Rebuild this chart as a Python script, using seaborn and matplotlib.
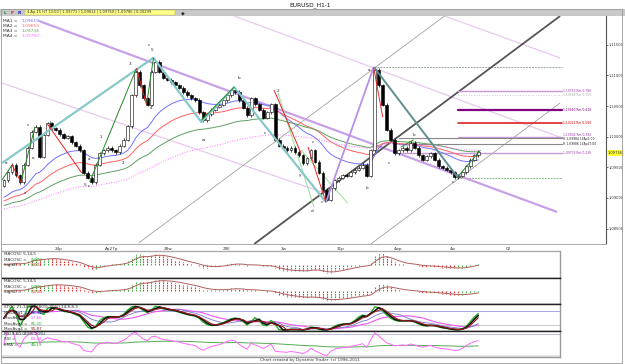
import numpy as np
import pandas as pd
import matplotlib
matplotlib.use("Agg")
import matplotlib.pyplot as plt
import matplotlib.transforms as mtransforms
from matplotlib.patches import Rectangle
import seaborn as sns

sns.set_style("white")
plt.rcParams['font.family'] = ['DejaVu Sans']

# ---- data (EURUSD H1) ----
first_open = 1.0920
closes = [1.0929, 1.0942, 1.0954, 1.0937, 1.0926, 1.0954, 1.0982, 1.1008, 1.1016, 1.0967,
          1.1003, 1.1022, 1.1014, 1.1011, 1.1004, 1.0998, 1.1001, 1.0991, 1.0985, 1.0978,
          1.0941, 1.0933, 1.0926, 1.0954, 1.0973, 1.0978, 1.0982, 1.0978, 1.0975, 1.0985,
          1.0995, 1.1017, 1.1068, 1.1106, 1.1084, 1.1063, 1.1052, 1.1106, 1.1122, 1.1106,
          1.1096, 1.1093, 1.1089, 1.1084, 1.1080, 1.1073, 1.1068, 1.1063, 1.1060, 1.1040,
          1.1027, 1.1037, 1.1044, 1.1049, 1.1052, 1.1060, 1.1068, 1.1076, 1.1073, 1.1060,
          1.1047, 1.1035, 1.1063, 1.1053, 1.1044, 1.1031, 1.1040, 1.1053, 1.0995, 1.0985,
          1.0982, 1.0978, 1.0982, 1.0975, 1.0970, 1.0957, 1.0965, 1.0978, 1.0959, 1.0941,
          1.0913, 1.0897, 1.0916, 1.0929, 1.0933, 1.0937, 1.0936, 1.0942, 1.0946, 1.0949,
          1.0954, 1.0936, 1.0978, 1.1109, 1.1084, 1.1052, 1.1011, 1.0995, 1.0973, 1.0978,
          1.0982, 1.0978, 1.0990, 1.0982, 1.0970, 1.0962, 1.0968, 1.0973, 1.0962, 1.0952,
          1.0949, 1.0946, 1.0942, 1.0934, 1.0936, 1.0942, 1.0952, 1.0962, 1.0970, 1.0975]

ma_seeds = [1.0898, 1.0893, 1.0886, 1.0881]
ma_spans = [20, 34, 55, 89]
ma_names = ["MA1 =", "MA2 =", "MA3 =", "MA4 ="]
ma_values = ["1,09619", "1,09653", "1,09734", "1,09750"]

price_ticks = [1.085, 1.090, 1.095, 1.100, 1.105, 1.110, 1.115]
date_ticks = [13.75, 27, 41.25, 55.75, 70.25, 84.5, 98.75, 112.5, 126.5]
date_labels = ["24p", "Ap27p", "28w", "29E", "3w", "31p", "4wp", "4w", "02"]
last_price = 1.09736

# drawing tools as (candle index, price)
fork_median = [(8.75, 1.11891), (138.75, 1.08770)]
fork_lower = [(-0.5, 1.10877), (82, 1.09047)]
fork_upper = [(57.75, 1.11972), (139.5, 1.09990)]
fork_top = [(110.5, 1.11972), (139.5, 1.11286)]
handle_line = [(33.75, 1.08263), (110.5, 1.11972)]
lower_grey = [(92, 1.08247), (139.5, 1.10551)]
black_trend = [(62.75, 1.08247), (139.5, 1.11972)]
teal_zigzag = [(-0.5, 1.0957), (37.5, 1.1129), (49.5, 1.1024), (57.75, 1.1081), (80.75, 1.0893)]
violet_leg = [(80.75, 1.0893), (92.75, 1.1114)]
slate_leg = [(92.75, 1.1114), (113.75, 1.0934)]
green_legs = [[(-0.5, 1.0929), (2, 1.0954)], [(4.25, 1.0926), (7.75, 1.1016)],
              [(21.5, 1.0926), (33.25, 1.1112)], [(35.75, 1.1052), (37.5, 1.1129)],
              [(49.5, 1.1027), (57.75, 1.1081)], [(99.5, 1.0983), (102.75, 1.0995)],
              [(113.75, 1.0934), (119.5, 1.0978)]]
red_legs = [[(2, 1.0954), (4.25, 1.0926)], [(10.75, 1.1022), (19.5, 1.0941)],
            [(33.25, 1.1112), (35.75, 1.1052)], [(67.75, 1.1076), (74.5, 1.0973)],
            [(76.25, 1.0983), (80.75, 1.0893)], [(92.75, 1.1112), (95, 1.1032)]]
channel_legs = [[(68.75, 1.1071), (77.75, 1.0885)], [(74.5, 1.0978), (86.25, 1.0891)]]
top_hline = [(92.75, 1.11139), (140, 1.11139)]
low_hline = [(113.75, 1.09325), (140, 1.09325)]

fib_levels = [1.10753, 1.10688, 1.10440, 1.10223, 1.10002, 1.09984, 1.09886, 1.09733]
fib_labels = ["1,10753 Ret 0,786", "1,10688 Ret 0,750", "1,10440 Ret 0,618",
              "1,10223 Ret 0,500", "1,10002 Ret 0,382", "H 1,09984 14Ap5:00",
              "H 1,09886 14Ap17:00", "1,09733 Ret 0,236"]
fib_start = [114, 114, 114, 114, 114, 99, 99, 99]

wave_text = ["a", "c", "b", "a", "2", "5", "c", "a", "1", "2", "3", "4", "c", "5", "w", "x",
             "b", "2", "c", "c", "y", "c", "d", "a", "b", "c", "b", "c"]
wave_x = [0.5, 6, 11.75, 7.25, 15.5, 20.25, 21.25, 21.25, 24.25, 29.75, 31.5, 37, 36.25, 37,
          50, 5.25, 59, 68.75, 65.5, 77.5, 74.25, 79.75, 77.25, 91.5, 91, 96.5, 102.75, 112.5]
wave_y = [1.0957, 1.1019, 1.1022, 1.0965, 1.1000, 1.0921, 1.0919, 1.0964, 1.1000, 1.0957,
          1.1119, 1.1047, 1.1150, 1.1142, 1.0995, 1.0908, 1.1096, 1.1075, 1.1006, 1.0991,
          1.0937, 1.0893, 1.0879, 1.1109, 1.0916, 1.0957, 1.1003, 1.0926]

# ---- derived series ----
c = pd.Series(closes)
idx = np.arange(len(closes))
opens = pd.Series([first_open] + closes[:-1])


def ema(s, n):
    return s.ewm(span=n, adjust=False).mean()


mas = [ema(pd.Series([seed] + closes), span).iloc[1:].to_numpy()
       for seed, span in zip(ma_seeds, ma_spans)]

macd1 = ema(c, 5) - ema(c, 14)
sig1 = ema(macd1, 5)
macd2 = ema(c, 5) - ema(c, 34)
sig2 = ema(macd2, 5)

lo = c.rolling(21, min_periods=1).min()
hi = c.rolling(21, min_periods=1).max()
k = (100 * (c - lo) / (hi - lo)).fillna(50)

delta = c.diff().fillna(0)
gain = delta.clip(lower=0).ewm(alpha=1 / 9, adjust=False).mean()
loss = (-delta.clip(upper=0)).ewm(alpha=1 / 9, adjust=False).mean()
rsi = (100 * gain / (gain + loss)).fillna(50)
rsi_ema = ema(rsi, 60)

# ---- figure ----
W, H = 625, 364
fig = plt.figure(figsize=(6.25, 3.64), dpi=100)


def rect(x0, y0, x1, y1):
    return [x0 / W, 1 - y1 / H, (x1 - x0) / W, (y1 - y0) / H]


ax = fig.add_axes(rect(2, 16, 606, 244))
ax.set_xlim(-0.5, 151)
ax.set_ylim(1.08247, 1.11972)


def seg(pts, **kw):
    xs, ys = zip(*pts)
    ax.plot(xs, ys, solid_capstyle="butt", **kw)


# pitchfork & tools (behind candles)
seg(fork_lower, color="#e8c8f0", lw=0.9)
seg(fork_upper, color="#e8c8f0", lw=0.9)
seg(fork_top, color="#e8c8f0", lw=0.9)
seg(handle_line, color="#a0a0a0", lw=0.6)
seg(lower_grey, color="#a0a0a0", lw=0.6)
seg(top_hline, color="#98a898", lw=0.7, ls=(0, (2, 1)))
seg(low_hline, color="#88b888", lw=0.7, ls=(0, (2, 1)))
seg(fork_median, color="#c8a0e8", lw=1.6)
seg(black_trend, color="#555555", lw=1.3)
for s in channel_legs:
    seg(s, color="#98e098", lw=0.7)

# fib levels
fib_colors = ["#c898d8", "#c8c8c8", "#800080", "#dd2222", "#c898d8", "#888888", "#888888", "#c898d8"]
fib_widths = [1.0, 0.7, 1.6, 1.2, 1.0, 0.8, 0.8, 1.0]
label_colors = ["#9933aa", "#aaaaaa", "#800080", "#cc0000", "#9933aa", "#222222", "#222222", "#9933aa"]
label_nudge = [0.0, 0.0, 0.0, 0.0, 0.00024, -0.00014, 0.0, 0.0]
for lvl, lab, x0, col, lw, lc, nd in zip(fib_levels, fib_labels, fib_start, fib_colors,
                                          fib_widths, label_colors, label_nudge):
    ax.plot([x0, 140], [lvl, lvl], color=col, lw=lw, ls=":" if "0,750" in lab else "-")
    ax.text(140.3, lvl + nd, lab, fontsize=2.2, color=lc, va="center", ha="left")

# moving averages
ma_colors = ["#7070ff", "#ff6060", "#60a060", "#ff70ff"]
ma_styles = ["-", "-", "-", ":"]
for m, col, st in zip(mas, ma_colors, ma_styles):
    sns.lineplot(x=idx, y=m, ax=ax, color=col, lw=0.7, linestyle=st, legend=False)

# candles
wick = 0.00025
body_lo = np.minimum(opens, c)
body_hi = np.maximum(opens, c)
ax.vlines(idx, body_lo - wick, body_hi + wick, color="black", lw=0.5, zorder=3)
up = c >= opens
ax.bar(idx[up], (body_hi - body_lo)[up] + 0.00004, bottom=body_lo[up] - 0.00002, width=0.72,
       color="white", edgecolor="black", lw=0.4, zorder=4)
ax.bar(idx[~up], (body_hi - body_lo)[~up] + 0.00004, bottom=body_lo[~up] - 0.00002, width=0.72,
       color="black", edgecolor="black", lw=0.4, zorder=4)

# zigzags on top
seg(teal_zigzag, color="#88c8c8", lw=1.6, zorder=5)
seg(violet_leg, color="#b890e8", lw=1.3, zorder=5)
seg(slate_leg, color="#5f8f8f", lw=1.4, zorder=5)
for s in green_legs:
    seg(s, color="#228822", lw=0.7, zorder=6)
for s in red_legs:
    seg(s, color="#ee2222", lw=0.7, zorder=6)

for t, x, y in zip(wave_text, wave_x, wave_y):
    ax.text(x, y, t, fontsize=3, ha="center", va="center", color="#222222", zorder=7)

# MA legend
for j, (nm, val, col) in enumerate(zip(ma_names, ma_values, ma_colors)):
    ax.text(0.002, 0.985 - j * 0.022, nm, transform=ax.transAxes, fontsize=3.2, va="top", color="#333333")
    ax.text(0.032, 0.985 - j * 0.022, val, transform=ax.transAxes, fontsize=3.2, va="top", color=col)

# axes styling
ax.yaxis.tick_right()
ax.set_yticks(price_ticks)
ax.set_yticklabels([f"{p:.5f}".replace(".", ",") for p in price_ticks])
ax.set_xticks(date_ticks)
ax.set_xticklabels(date_labels)
ax.tick_params(axis="x", labelsize=3, length=2, width=0.5, pad=0.5, colors="#333333")
ax.tick_params(axis="y", labelsize=2.6, length=1.5, width=0.5, pad=0.5, colors="#333333", right=True)
for side in ["top", "left"]:
    ax.spines[side].set_visible(False)
ax.spines["right"].set_color("#555555")
ax.spines["right"].set_linewidth(0.8)
ax.spines["bottom"].set_color("#aaaaaa")
ax.spines["bottom"].set_linestyle((0, (2, 1)))
ax.spines["bottom"].set_linewidth(0.7)
ax.set_xlabel("")
ax.set_ylabel("")
tr = mtransforms.blended_transform_factory(ax.transAxes, ax.transData)
ax.text(1.003, last_price, "1,09736", transform=tr, fontsize=2.6, va="center", ha="left",
        bbox=dict(boxstyle="square,pad=0.25", fc="#ffff33", ec="none"), zorder=8)

# ---- indicator panels ----
panels = [(251, 278), (278, 304), (304, 331), (331, 357)]
pax = [fig.add_axes(rect(2, y0, 560, y1)) for y0, y1 in panels]


def style_panel(a):
    a.set_xlim(-0.5, 139.5)
    a.set_xticks([])
    a.set_yticks([])
    a.set_xlabel("")
    a.set_ylabel("")
    a.spines["left"].set_visible(False)
    a.spines["right"].set_color("#999999")
    a.spines["top"].set_color("#222222")
    a.spines["bottom"].set_color("#222222")
    for sp in a.spines.values():
        sp.set_linewidth(1.0)


def panel_text(a, lines):
    for j, (nm, val, col) in enumerate(lines):
        a.text(0.003, 0.95 - j * 0.2, nm, transform=a.transAxes, fontsize=3, va="top", color="#333333")
        if val:
            a.text(0.052, 0.95 - j * 0.2, val, transform=a.transAxes, fontsize=3, va="top", color=col)


for a, m, s, title, vals in [(pax[0], macd1, sig1, "MACOSC 5,14,5", ("0,000", "0,001")),
                             (pax[1], macd2, sig2, "MACOSC 5,34,5", ("0,000", "0,000"))]:
    rising = m.diff().fillna(0) >= 0
    a.vlines(idx[rising], 0, m[rising], color="#44aa44", lw=0.8, linestyles=(0, (1.5, 0.7)))
    a.vlines(idx[~rising], 0, m[~rising], color="#ee3333", lw=0.8, linestyles=(0, (1.5, 0.7)))
    sns.lineplot(x=idx, y=s, ax=a, color="#b06060", lw=0.7, legend=False)
    lim = max(m.abs().max(), s.abs().max()) * 1.15
    a.set_ylim(-lim, lim)
    style_panel(a)
    panel_text(a, [(title, None, None), ("MACOSC =", vals[0], "#22aa22"), ("Signal =", vals[1], "#dd2222")])
pax[0].spines["top"].set_color("#aaaaaa")
pax[0].spines["top"].set_linestyle((0, (2, 1)))

a = pax[2]
a.axhline(80, color="#aaaadd", lw=0.7)
a.axhline(20, color="#cccccc", lw=0.7)
sns.lineplot(x=idx, y=k.rolling(14, min_periods=1).mean(), ax=a, color="#ee55ee", lw=0.8, legend=False)
sns.lineplot(x=idx, y=k.rolling(8, min_periods=1).mean(), ax=a, color="#7777cc", lw=0.6, legend=False)
sns.lineplot(x=idx, y=k.rolling(2, min_periods=1).mean(), ax=a, color="#22aa22", lw=1.0, legend=False)
sns.lineplot(x=idx, y=k.rolling(3, min_periods=1).mean(), ax=a, color="#111111", lw=1.2, legend=False)
sns.lineplot(x=idx, y=k.rolling(4, min_periods=1).mean(), ax=a, color="#9b1a1a", lw=0.8, legend=False)
a.set_ylim(-5, 110)
style_panel(a)
panel_text(a, [("STOC 21,13,8,8 (80%-20%) 14,8,8,3", None, None), ("MovAvg1 =", "86,41", "#2222cc"),
               ("MovAvg2 =", "57,66", "#ee55ee"), ("MovAvg3 =", "81,20", "#22aa22"),
               ("MovAvg4 =", "95,87", "#9b1a1a")])

a = pax[3]
a.axhline(80, color="#bbbbdd", lw=0.7)
a.axhspan(14, 20, color="#e4e4e4", lw=0)
sns.lineplot(x=idx, y=rsi_ema, ax=a, color="#55aa55", lw=0.7, legend=False)
sns.lineplot(x=idx, y=rsi, ax=a, color="#ff66ff", lw=0.7, legend=False)
a.set_ylim(14, 88)
style_panel(a)
a.spines["bottom"].set_color("#999999")
panel_text(a, [("RSI 9,60 (80%-20%)", None, None), ("RSI =", "60,22", "#ff44ff"), ("EMA =", "48,19", "#22aa22")])

# ---- window chrome ----
fig.patches.append(Rectangle((0, 1 - 16 / H), 1, 7 / H, transform=fig.transFigure,
                             fc="#c8c8c8", ec="none", zorder=0))
fig.patches.append(Rectangle((25 / W, 1 - 15 / H), 150 / W, 5 / H, transform=fig.transFigure,
                             fc="#ffff88", ec="#bbbb55", lw=0.3, zorder=1))
fig.text(310 / W, 1 - 5 / H, "EURUSD_H1-1", fontsize=4.2, ha="center", va="center", color="#111111")
fig.text(4 / W, 1 - 12.5 / H, "L", fontsize=3.2, color="#228822", va="center", fontweight="bold")
fig.text(11 / W, 1 - 12.5 / H, "F", fontsize=3.2, color="#cc2222", va="center", fontweight="bold")
fig.text(18 / W, 1 - 12.5 / H, "R", fontsize=3.2, color="#2222cc", va="center", fontweight="bold")
fig.text(27 / W, 1 - 12.5 / H, "4-Ap-15 H7 13:00 | 1,09771 | 1,09814 | 1,09769 | 1,09786 | 0,00299",
         fontsize=2.6, va="center", color="#333333")
fig.text(181 / W, 1 - 12.5 / H, "\u25c6", fontsize=3.5, va="center", color="#333333")
fig.text(310 / W, 1 - 360 / H, "Chart created by Dynamic Trader  (c) 1996-2011", fontsize=3,
         ha="center", va="center", color="#333333")
fig.patches.append(Rectangle((0.5 / W, 1 / H), 621 / W, 1 - 10 / H, transform=fig.transFigure,
                             fc="none", ec="#999999", lw=0.6))

fig.savefig("out.png", dpi=100)
